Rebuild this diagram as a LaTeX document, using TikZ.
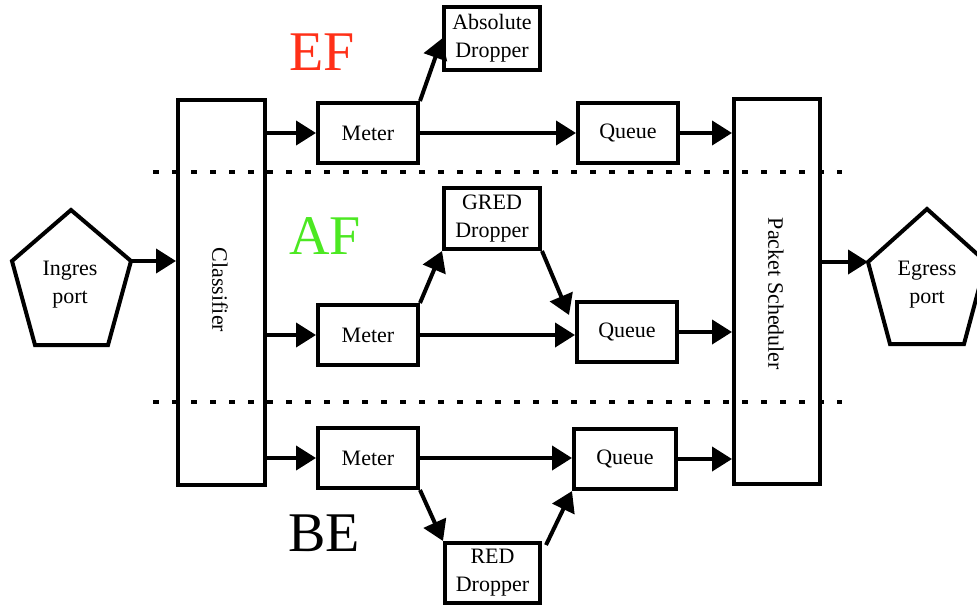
\documentclass[tikz,border=0pt]{standalone}
\usepackage{fontspec}
\setmainfont{Liberation Serif}
\usetikzlibrary{arrows.meta,calc}

\definecolor{efred}{RGB}{255,48,24}
\definecolor{afgreen}{RGB}{76,232,34}

\tikzset{
  box/.style={draw, line width=4pt, inner sep=0pt, align=center,
    font=\fontsize{22}{28}\selectfont},
  unit/.style={box, minimum width=100pt, minimum height=60pt},
  dropbox/.style={box, minimum width=96pt, minimum height=62pt},
  tall/.style={box, minimum width=87pt, minimum height=385pt},
  flow/.style={line width=4pt, -{Triangle[length=20pt,width=24pt]}},
  sep/.style={line width=4pt, dash pattern=on 6pt off 13pt},
  port/.style={line width=4pt, line join=miter},
  cls/.style={font=\fontsize{56}{60}\selectfont}
}

\begin{document}
\begin{tikzpicture}[x=1pt, y=-1pt]
  \clip (0,0) rectangle (977,605);

  % class separators
  \draw[sep] (153,172) -- (842,172);
  \draw[sep] (153,402) -- (842,402);

  % ports
  \draw[port] (71,210) -- (131,261) -- (108,345) -- (35,345) -- (12,261) -- cycle;
  \coordinate (inR) at (131,261);
  \node[align=center, font=\fontsize{22}{28}\selectfont] (inTxt) at (70,285) {Ingres\\port};

  \draw[port] (927,209) -- (986,262) -- (964,344) -- (890,344) -- (868,262) -- cycle;
  \coordinate (outL) at (868,262);
  \node[align=center, font=\fontsize{22}{28}\selectfont] (outTxt) at (927,285) {Egress\\port};

  % classifier and scheduler
  \node[tall] (cls) at (221.5,292.5) {};
  \node[rotate=-90, font=\fontsize{22}{28}\selectfont] (clsTxt) at (220,290) {Classifier};
  \node[tall, minimum width=86pt] (sch) at (777,291.5) {};
  \node[rotate=-90, font=\fontsize{22}{28}\selectfont] (schTxt) at (776,294) {Packet Scheduler};

  % EF
  \node[cls, text=efred] (efLbl) at (322,52) {EF};
  \node[unit] (mEF) at (368,133) {Meter};
  \node[unit] (qEF) at (628,133) {Queue};
  \node[dropbox, minimum height=63pt] (dEF) at (492,38.5) {Absolute\\Dropper};

  % AF
  \node[cls, text=afgreen] (afLbl) at (325,236) {AF};
  \node[unit] (mAF) at (368,335) {Meter};
  \node[unit] (qAF) at (627,332) {Queue};
  \node[dropbox, minimum height=61pt] (gAF) at (492,218.5) {GRED\\Dropper};

  % BE
  \node[cls] (beLbl) at (324,533) {BE};
  \node[unit] (mBE) at (368,458) {Meter};
  \node[unit, minimum width=102pt] (qBE) at (625,459) {Queue};
  \node[dropbox, minimum width=95pt, minimum height=60pt] (rBE) at (492.5,573) {RED\\Dropper};

  % connectors
  \draw[flow] (inR) -- (inR -| cls.west);
  \draw[flow] (cls.east |- mEF) -- (mEF.west);
  \draw[flow] (cls.east |- mAF) -- (mAF.west);
  \draw[flow] (cls.east |- mBE) -- (mBE.west);

  \draw[flow] (mEF.east) -- (qEF.west);
  \draw[flow] (mEF.north east) -- (dEF.west);

  \draw[flow] (mAF.east) -- (mAF.east -| qAF.west);
  \draw[flow] (mAF.north east) -- (gAF.south west);
  \draw[flow] (gAF.south east) -- ($(qAF.west)+(-6,-17)$);

  \draw[flow] (mBE.east) -- (mBE.east -| qBE.west);
  \draw[flow] (mBE.south east) -- (rBE.north west);
  \draw[flow] ($(rBE.north east)+(4,4)$) -- (qBE.south west);

  \draw[flow] (qEF.east) -- (qEF.east -| sch.west);
  \draw[flow] (qAF.east) -- (qAF.east -| sch.west);
  \draw[flow] (qBE.east) -- (qBE.east -| sch.west);

  \draw[flow] (sch.east |- outL) -- (outL);
\end{tikzpicture}
\end{document}
